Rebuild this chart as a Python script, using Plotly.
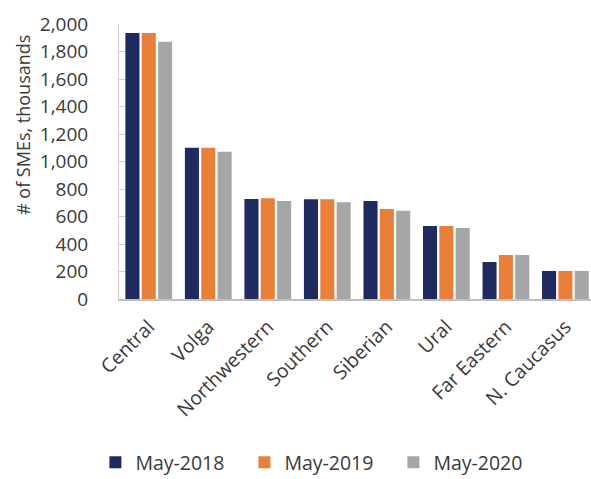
import plotly.graph_objects as go

regions = ["Central", "Volga", "Northwestern", "Southern", "Siberian", "Ural", "Far Eastern", "N. Caucasus"]
may_2018 = [1935, 1100, 727, 725, 713, 531, 269, 204]
may_2019 = [1935, 1100, 732, 725, 655, 531, 320, 204]
may_2020 = [1871, 1071, 713, 703, 642, 516, 320, 204]
series_names = ["May-2018", "May-2019", "May-2020"]
colors = ["#1F2A5E", "#E8803A", "#A5A6A8"]
y_ticks = [0, 200, 400, 600, 800, 1000, 1200, 1400, 1600, 1800, 2000]
y_title = "# of SMEs, thousands"

FONT = "Open Sans, Noto Sans, sans-serif"
TXT = "#3A3A3A"

fig = go.Figure()
for name, vals, col in zip(series_names, [may_2018, may_2019, may_2020], colors):
    fig.add_trace(go.Bar(x=regions, y=vals, name=name, marker=dict(color=col, line=dict(width=0))))

fig.update_layout(
    width=591, height=479,
    margin=dict(l=119, r=0, t=24, b=180, autoexpand=False),
    paper_bgcolor="white", plot_bgcolor="white",
    barmode="group", bargap=0.176, bargroupgap=0.14,
    font=dict(family=FONT, size=18, color=TXT),
    showlegend=True,
    legend=dict(orientation="h", x=-0.05, xanchor="left", y=-0.595, yanchor="middle",
                font=dict(size=19.5, color=TXT), tracegroupgap=0, itemwidth=30,
                entrywidth=104, entrywidthmode="pixels"),
    xaxis=dict(range=[-0.5, 7.43], automargin=False, showgrid=False, showline=True,
               linecolor="#BFBFBF", linewidth=1.5,
               ticks="", tickangle=-45, tickfont=dict(size=19.5, color=TXT), ticklabelstandoff=7),
    yaxis=dict(range=[0, 2000], automargin=False, tickvals=y_ticks, tickformat=",d",
               showgrid=False, zeroline=False,
               showline=True, linecolor="#D0D0D0", linewidth=1,
               ticks="inside", ticklen=6, tickcolor="#D0D0D0",
               tickfont=dict(size=19, color=TXT), ticklabelstandoff=26),
    annotations=[dict(text=y_title, textangle=-90, xref="paper", yref="paper",
                      x=-0.2034, y=0.6327, xanchor="center", yanchor="middle",
                      showarrow=False, font=dict(size=18, color=TXT))],
)

fig.write_html("out.html", config={"displayModeBar": False},
               post_script="document.body.style.margin='0';document.body.style.padding='0';document.body.style.overflow='hidden';")
